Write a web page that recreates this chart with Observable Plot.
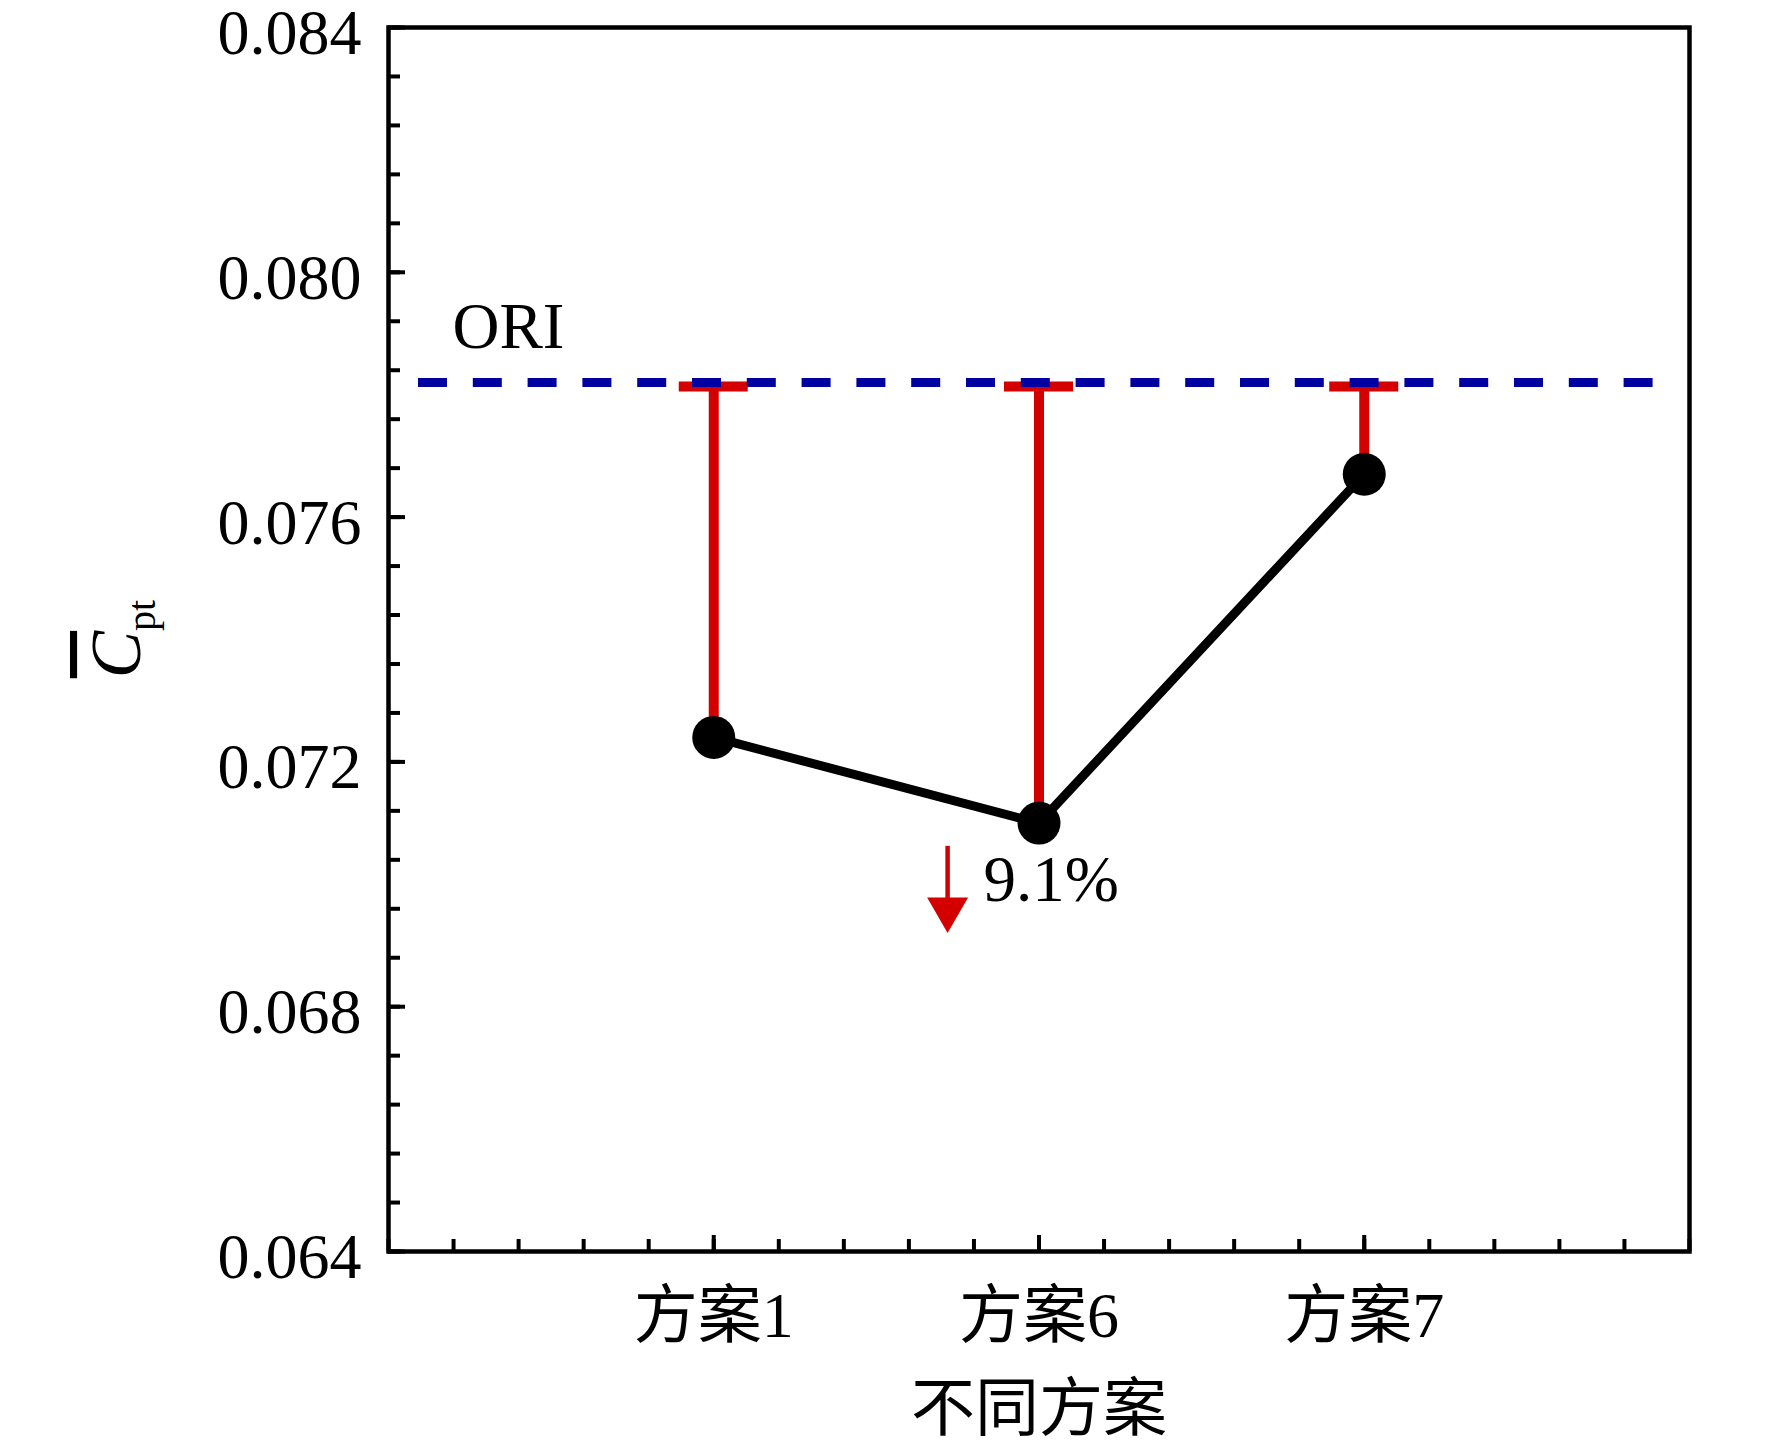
<!DOCTYPE html>
<html>
<head>
<meta charset="utf-8">
<script src="https://cdn.jsdelivr.net/npm/d3@7"></script>
<script src="https://cdn.jsdelivr.net/npm/@observablehq/plot@0.6"></script>
<style>
  html, body { margin: 0; padding: 0; background: #fff; }
</style>
</head>
<body>
<div id="chart"></div>
<script>
// ---- data ----
const categories = ["方案1", "方案6", "方案7"];
const categoryPos = [1, 2, 3];
const cptValues = [0.0724, 0.0710, 0.0767];
const oriValue = 0.0782;
const oriLabel = ["ORI"];
const yTickValues = [0.064, 0.068, 0.072, 0.076, 0.080, 0.084];
const yTickLabels = ["0.064", "0.068", "0.072", "0.076", "0.080", "0.084"];
const reductionLabel = ["9.1%"];
const reductionPos = [1.829, 0.07007];      // text anchor (x, y)
const arrowPos = [1.719, 0.07062, 0.06959];  // x, shaft top y, head y
const xAxisTitle = "不同方案";

// ---- layout ----
const W = 1772, H = 1446;
const mL = 388, mR = 83, mT = 27, mB = 195;
const plotW = W - mL - mR, plotH = H - mT - mB;

const points = categories.map((c, i) => ({name: c, x: categoryPos[i], y: cptValues[i]}));
const yMinor = d3.range(0, 26).map(i => 0.064 + i * 0.0008).filter(v => v < 0.0841);
const xMinor = d3.range(0, 21).map(i => i * 0.2);
const xMajor = categoryPos;
const red = "#d40000";
const capHalf = 34.5 / (plotW / 4);

const svg = Plot.plot({
  width: W, height: H,
  marginLeft: mL, marginRight: mR, marginTop: mT, marginBottom: mB,
  style: {background: "#fff", fontFamily: "'Liberation Serif', 'Times New Roman', serif", color: "#000", overflow: "visible"},
  x: {domain: [0, 4], axis: null},
  y: {domain: [0.064, 0.084], axis: null},
  marks: [
    // tick labels
    Plot.axisY(yTickValues, {
      anchor: "left", tickSize: 0, tickPadding: 27, fontSize: 64, label: null, dy: 6,
      tickFormat: d => yTickLabels[yTickValues.indexOf(d)],
      fontFamily: "'Liberation Serif', serif"
    }),
    Plot.axisX(xMajor, {
      anchor: "bottom", tickSize: 0, tickPadding: 40, fontSize: 64, label: null,
      tickFormat: d => categories[categoryPos.indexOf(d)],
      fontFamily: "'Liberation Serif', 'Noto Sans CJK SC', serif"
    }),
    Plot.text([xAxisTitle], {
      frameAnchor: "bottom", dy: 158, lineAnchor: "middle", fontSize: 64,
      fontFamily: "'Liberation Serif', 'Noto Sans CJK SC', serif", fill: "#000"
    }),
    // inward ticks
    Plot.tickY(yMinor, {y: d => d, insetRight: plotW - 12, stroke: "#000", strokeWidth: 4}),
    Plot.tickY(yTickValues, {y: d => d, insetRight: plotW - 17, stroke: "#000", strokeWidth: 4}),
    Plot.tickX(xMinor, {x: d => d, insetTop: plotH - 12, stroke: "#000", strokeWidth: 4}),
    Plot.tickX(xMajor, {x: d => d, insetTop: plotH - 16, stroke: "#000", strokeWidth: 4}),
    Plot.frame({stroke: "#000", strokeWidth: 4.5}),
    // red drops from ORI to each scheme
    Plot.ruleX(points, {x: "x", y1: oriValue, y2: "y", stroke: red, strokeWidth: 10, dy: 4}),
    Plot.ruleY(points, {y: oriValue, x1: d => d.x - capHalf, x2: d => d.x + capHalf, stroke: red, strokeWidth: 10, dy: 4}),
    // ORI baseline
    Plot.ruleY([oriValue], {insetLeft: 30, insetRight: 36, stroke: "#0000a0", strokeWidth: 9, strokeDasharray: "29,25.8"}),
    Plot.text(oriLabel, {x: 0.197, y: 0.0791, textAnchor: "start", fontSize: 65, fill: "#000",
      fontFamily: "'Liberation Serif', serif"}),
    // line + markers
    Plot.line(points, {x: "x", y: "y", stroke: "#000", strokeWidth: 9}),
    Plot.dot(points, {x: "x", y: "y", r: 21.5, fill: "#000", stroke: "none"}),
    // reduction arrow annotation
    Plot.ruleX([arrowPos], {x: d => d[0], y1: d => d[1], y2: d => d[2], stroke: red, strokeWidth: 4.5}),
    Plot.dot([arrowPos], {x: d => d[0], y: d => d[2], symbol: "triangle", rotate: 180, r: 15.2, fill: red, stroke: "none"}),
    Plot.text(reductionLabel, {x: reductionPos[0], y: reductionPos[1], textAnchor: "start", fontSize: 65, fill: "#000",
      fontFamily: "'Liberation Serif', serif"})
  ]
});

// y-axis title: overlined italic C with subscript "pt"
const cy = mT + plotH / 2;
const t = d3.select(svg).append("text")
  .attr("transform", `translate(140,${cy}) rotate(-90)`)
  .attr("text-anchor", "middle")
  .attr("font-family", "'Liberation Serif', serif")
  .attr("font-size", 71)
  .attr("fill", "#000");
t.append("tspan").attr("font-style", "italic").style("text-decoration", "overline").text("C");
t.append("tspan").attr("font-size", 40).attr("dy", 15).text("pt");

document.getElementById("chart").appendChild(svg);
</script>
</body>
</html>
